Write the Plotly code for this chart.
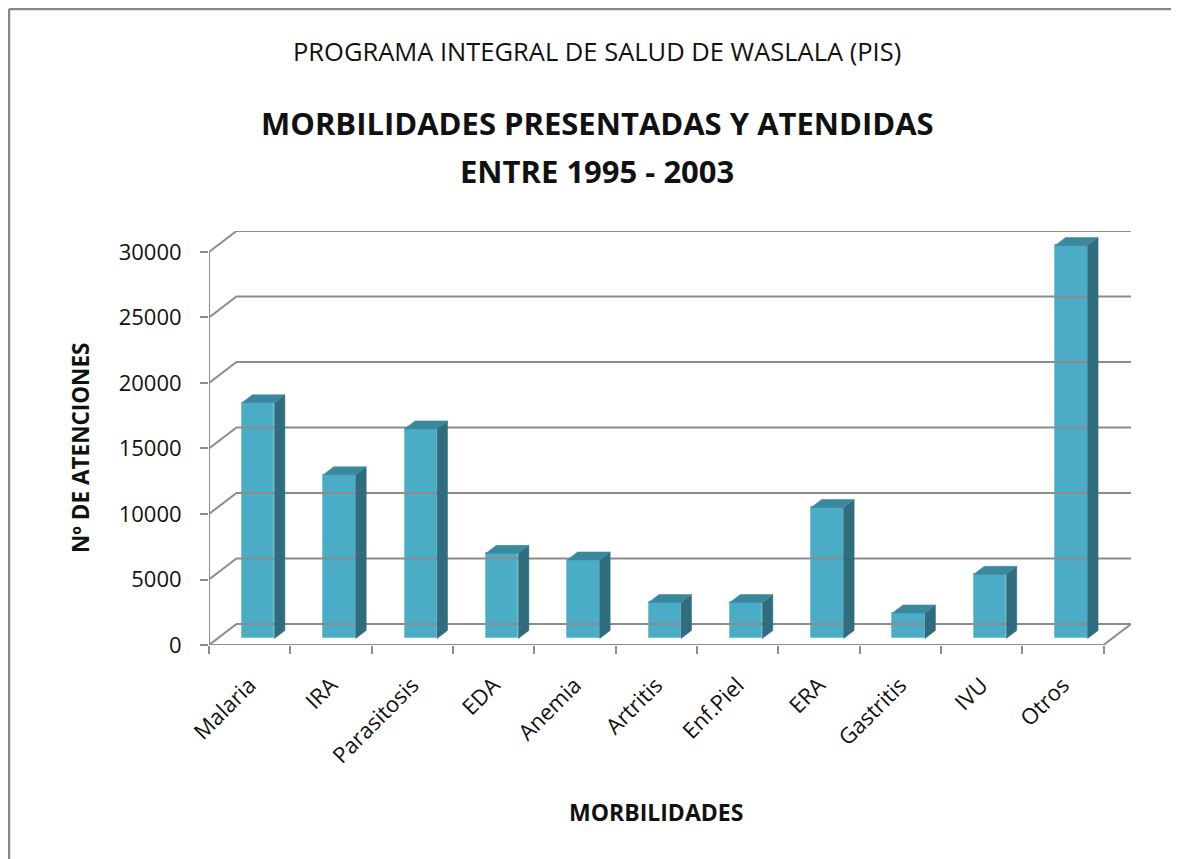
import plotly.graph_objects as go

# ---------------- data ----------------
categories = ["Malaria", "IRA", "Parasitosis", "EDA", "Anemia", "Artritis",
              "Enf.Piel", "ERA", "Gastritis", "IVU", "Otros"]
atenciones = [18000, 12500, 16000, 6500, 6000, 2750, 2750, 10000, 1950, 4900, 30000]
y_ticks = [0, 5000, 10000, 15000, 20000, 25000, 30000]
y_ticktext = ["0", "5000", "10000", "15000", "20000", "25000", "30000"]

title_top = "PROGRAMA INTEGRAL DE SALUD DE WASLALA (PIS)"
title_line1 = "MORBILIDADES PRESENTADAS Y ATENDIDAS"
title_line2 = "ENTRE 1995 - 2003"
x_title = "MORBILIDADES"
y_title = "Nº DE ATENCIONES"

# ---------------- geometry / style ----------------
OFF = 8                     # page body margin of the html page
W, H = 1179 - OFF, 859 - OFF
L, R, T, B = 201, 48, 223, 214
PW, PH = W - L - R, H - T - B
N = len(categories)
DX = 0.338      # depth offset in category units
DY = 1602       # depth offset in value units
F0, F1 = 0.31, 0.69   # bar depth (front/back) as fraction of floor depth
BW = 0.4        # bar width (category units)
YMAX = max(y_ticks) + DY

FONT = "Open Sans, Lato, sans-serif"
GRID = "#8c8c8c"
FRONT = "#4BACC6"
SIDE = "#2F6C7D"
TOP = "#3A889E"
TXT = "#111111"


def px_x(sx):
    """screen x (px) -> paper x"""
    return (sx - OFF - L) / PW


def px_y(sy):
    """screen y (px) -> paper y"""
    return (H - B - (sy - OFF)) / PH


# ---------------- 3D wall / grid lines ----------------
gx, gy = [], []
for v in y_ticks:
    gx += [0, DX, N + DX, None]
    gy += [v, v + DY, v + DY, None]
gx += [0, N, N + DX, None]
gy += [0, 0, DY, None]
gx += [0, 0, None]
gy += [0, max(y_ticks), None]

# ---------------- bar side & top faces ----------------
sx, sy, tx, ty = [], [], [], []
for i, v in enumerate(atenciones):
    c = i + 0.5
    xl0, xr0 = c + F0 * DX - BW / 2, c + F0 * DX + BW / 2
    xl1, xr1 = c + F1 * DX - BW / 2, c + F1 * DX + BW / 2
    b0, b1 = F0 * DY, F1 * DY
    sx += [xr0, xr0, xr1, xr1, xr0, None]
    sy += [b0, b0 + v, b1 + v, b1, b0, None]
    tx += [xl0, xr0, xr1, xl1, xl0, None]
    ty += [b0 + v, b0 + v, b1 + v, b1 + v, b0 + v, None]

fig = go.Figure()
fig.add_trace(go.Scatter(x=gx, y=gy, mode="lines", line=dict(color=GRID, width=2),
                         hoverinfo="skip", showlegend=False))
fig.add_trace(go.Scatter(x=sx, y=sy, mode="lines", fill="toself", fillcolor=SIDE,
                         line=dict(color=SIDE, width=0.5), hoverinfo="skip", showlegend=False))
fig.add_trace(go.Scatter(x=tx, y=ty, mode="lines", fill="toself", fillcolor=TOP,
                         line=dict(color=TOP, width=0.5), hoverinfo="skip", showlegend=False))
fig.add_trace(go.Bar(
    x=[i + 0.5 + F0 * DX for i in range(N)], y=atenciones, base=F0 * DY, width=BW,
    marker=dict(color=FRONT, line=dict(color="#78c4d8", width=1)),
    showlegend=False, name="Nº de atenciones",
    customdata=categories, hovertemplate="%{customdata}: %{y}<extra></extra>"))

fig.update_layout(
    width=W, height=H,
    margin=dict(l=L, r=R, t=T, b=B, autoexpand=False),
    paper_bgcolor="white", plot_bgcolor="rgba(0,0,0,0)",
    font=dict(family=FONT, color=TXT),
    showlegend=False,
    bargap=0,
)
fig.update_xaxes(
    range=[0, N + DX], showgrid=False, zeroline=False, showline=False,
    tickmode="array", tickvals=[i + 0.5 for i in range(N)], ticktext=categories,
    ticks="", tickangle=-45, tickfont=dict(size=22, family=FONT, color=TXT),
    ticklabelstandoff=22,
    minor=dict(tickmode="array", tickvals=list(range(N + 1)), ticks="outside",
               ticklen=8, tickwidth=2, tickcolor=GRID, showgrid=False),
    fixedrange=True,
)
fig.update_yaxes(
    range=[0, YMAX], showgrid=False, zeroline=False, showline=False,
    tickmode="array", tickvals=y_ticks, ticktext=y_ticktext,
    ticks="outside", ticklen=8, tickwidth=2,
    tickcolor=GRID, tickfont=dict(size=22, family=FONT, color=TXT),
    ticklabelstandoff=14, fixedrange=True,
)

annots = [
    dict(text=title_top, x=px_x(597), y=px_y(51), font=dict(size=25.5)),
    dict(text="<b>" + title_line1 + "</b>", x=px_x(597), y=px_y(123), font=dict(size=31)),
    dict(text="<b>" + title_line2 + "</b>", x=px_x(597), y=px_y(171), font=dict(size=31)),
    dict(text="<b>" + x_title + "</b>", x=px_x(656), y=px_y(812), font=dict(size=23)),
    dict(text="<b>" + y_title + "</b>", x=px_x(80), y=px_y(448), font=dict(size=22.5),
         textangle=-90),
]
for a in annots:
    fig.add_annotation(xref="paper", yref="paper", xanchor="center", yanchor="middle",
                       showarrow=False, **a)

# outer chart border (left and top edges visible)
fig.add_shape(type="line", xref="paper", yref="paper", x0=px_x(9), x1=px_x(9),
              y0=px_y(9), y1=px_y(900), line=dict(color="#888888", width=2.5))
fig.add_shape(type="line", xref="paper", yref="paper", x0=px_x(9), x1=px_x(1250),
              y0=px_y(9), y1=px_y(9), line=dict(color="#888888", width=2.5))

fig.write_html("out.html")
